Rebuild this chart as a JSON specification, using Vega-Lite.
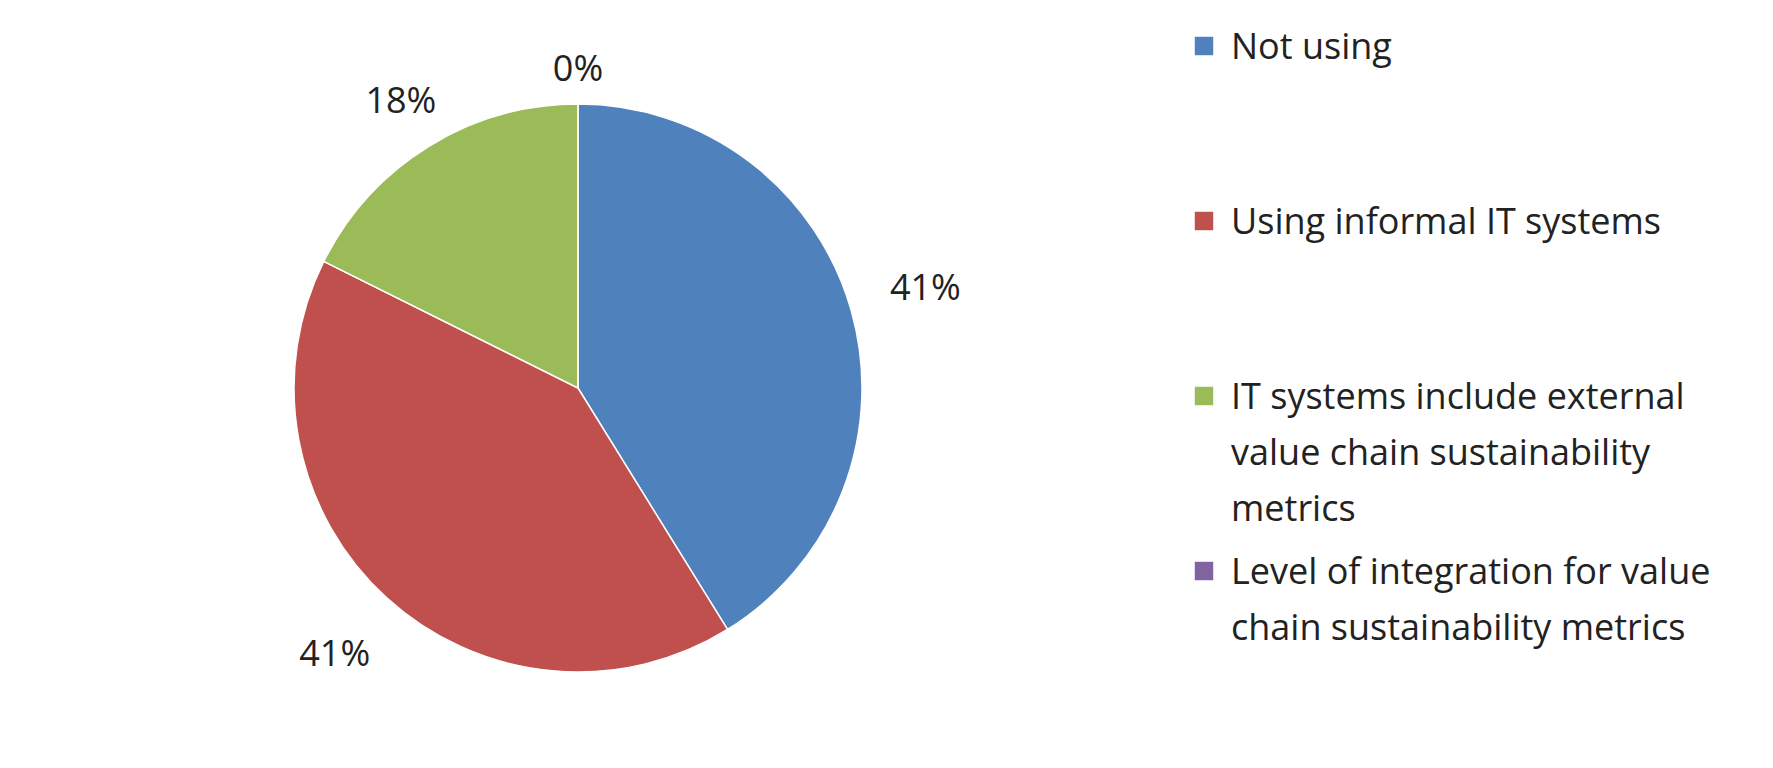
{
  "$schema": "https://vega.github.io/schema/vega-lite/v6.json",
  "width": 1156,
  "height": 760,
  "autosize": {"type": "none"},
  "padding": {"left": 0, "top": 8, "right": 617, "bottom": 0},
  "background": "white",
  "config": {
    "view": {"stroke": null},
    "font": "Open Sans",
    "style": {"guide-label": {"lineHeight": 56, "dy": -15}}
  },
  "data": {
    "values": [
      {"category": "Not using", "share": 0.41176, "rank": 1},
      {"category": "Using informal IT systems", "share": 0.41176, "rank": 2},
      {"category": "IT systems include external value chain sustainability metrics", "share": 0.17647, "rank": 3},
      {"category": "Level of integration for value chain sustainability metrics", "share": 0, "rank": 4}
    ]
  },
  "encoding": {
    "theta": {"field": "share", "type": "quantitative", "stack": true},
    "order": {"field": "rank", "type": "quantitative"},
    "color": {
      "field": "category",
      "type": "nominal",
      "scale": {
        "domain": ["Not using", "Using informal IT systems", "IT systems include external value chain sustainability metrics", "Level of integration for value chain sustainability metrics"],
        "range": ["#4F81BD", "#C0504D", "#9BBB59", "#8064A2"]
      },
      "legend": {
        "orient": "none",
        "legendX": 1186,
        "legendY": 20,
        "title": null,
        "padding": 0,
        "symbolType": "square",
        "symbolSize": 340,
        "symbolStrokeWidth": 0,
        "symbolOpacity": 1,
        "labelFont": "Open Sans",
        "labelFontSize": 36,
        "labelColor": "#222222",
        "labelOffset": 9,
        "labelLimit": 0,
        "rowPadding": 25,
        "labelBaseline": "top",
        "labelExpr": "datum.label == 'Not using' ? ['Not using', '', ''] : datum.label == 'Using informal IT systems' ? ['Using informal IT  systems', '', ''] : datum.label == 'Level of integration for value chain sustainability metrics' ? ['Level of integration for value', 'chain sustainability  metrics', ''] : ['IT systems include external', 'value chain sustainability', 'metrics']"
      }
    }
  },
  "layer": [
    {
      "mark": {"type": "arc", "radius": 284, "stroke": "white", "strokeWidth": 1.5}
    },
    {
      "mark": {"type": "text", "fontSize": 36, "font": "Open Sans", "color": "#222222"},
      "encoding": {
        "radius": {
          "field": "share",
          "type": "quantitative",
          "scale": {"type": "linear", "domain": [0, 0.42], "range": [318, 362], "zero": false}
        },
        "text": {"field": "share", "type": "quantitative", "format": ".0%"},
        "color": {"value": "#222222"}
      }
    }
  ]
}
